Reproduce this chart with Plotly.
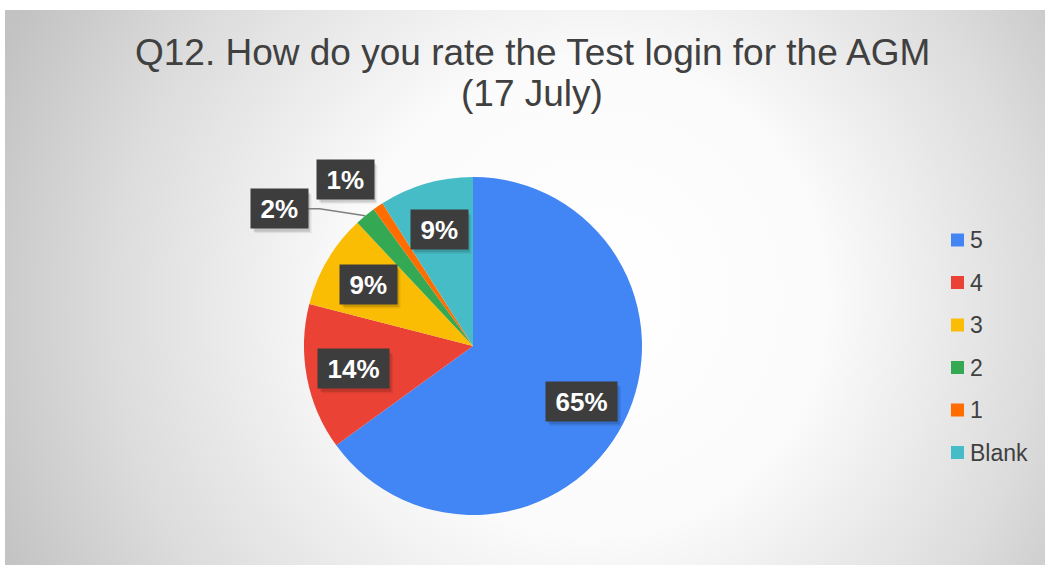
import math
import base64
import plotly.graph_objects as go

# ---- data ----
categories = ["5", "4", "3", "2", "1", "Blank"]
values = [65, 14, 9, 2, 1, 9]
colors = ["#4285F4", "#EA4335", "#FBBC04", "#34A853", "#FF6D01", "#46BDC6"]
title_line1 = "Q12. How do you rate the Test login for the AGM"
title_line2 = "(17 July)"

W, H = 1045, 565
TXT = "#404040"
FONT = "Liberation Sans, Arial"

# ---- pie geometry (pixels) ----
cx, cy, r = 473, 346, 169
dom_x = [(cx - r) / W, (cx + r) / W]
dom_y = [1 - (cy + r) / H, 1 - (cy - r) / H]

fig = go.Figure()
fig.add_trace(go.Pie(
    labels=categories, values=values, sort=False, direction="clockwise",
    rotation=0, marker=dict(colors=colors, line=dict(width=0)),
    textinfo="none", hoverinfo="label+percent", showlegend=False,
    domain=dict(x=dom_x, y=dom_y),
))

# ---- background radial gradient (svg data uri) ----
svg = '''<svg xmlns="http://www.w3.org/2000/svg" width="1040" height="555" viewBox="0 0 1040 555">
<defs><radialGradient id="g" cx="560" cy="300" r="620" gradientUnits="userSpaceOnUse" fx="600" fy="280">
<stop offset="0" stop-color="#ffffff"/>
<stop offset="0.38" stop-color="#fbfbfb"/>
<stop offset="0.75" stop-color="#dcdcdc"/>
<stop offset="1" stop-color="#c2c2c2"/>
</radialGradient></defs>
<rect width="1040" height="555" fill="url(#g)"/>
</svg>'''
uri = "data:image/svg+xml;base64," + base64.b64encode(svg.encode()).decode()
fig.add_layout_image(dict(source=uri, xref="paper", yref="paper", x=5 / W, y=1 - 10 / H,
                          sizex=1040 / W, sizey=555 / H, sizing="stretch",
                          xanchor="left", yanchor="top", layer="below"))

# ---- data labels ----
total = sum(values)
pct = [round(v * 100 / total) for v in values]
LFS = 26          # label font size
BH = 37           # label text box height
inside_factor = 0.72
# outside labels: pixel offset of box centre from slice edge, and whether a leader line is drawn
outside_offsets = {3: (-86, -7, True), 4: (-33, -27, False)}

annotations = []
shapes = []
cum = 0
for i, v in enumerate(values):
    mid = 2 * math.pi * (cum + v / 2) / total
    cum += v
    text = f"<b>{pct[i]}%</b>"
    nchar = len(str(pct[i]))
    bw = nchar * 0.556 * LFS + 0.889 * LFS + 17
    line = False
    if i in outside_offsets:
        ex = cx + r * math.sin(mid)
        ey = cy - r * math.cos(mid)
        ax, ay, line = outside_offsets[i]
        px, py = ex + ax, ey + ay
    else:
        px = cx + inside_factor * r * math.sin(mid)
        py = cy - inside_factor * r * math.cos(mid)
    # soft shadow (two layered rects)
    for off, alpha in ((4, 0.07), (2.5, 0.12)):
        shapes.append(dict(type="rect", xref="paper", yref="paper", layer="above",
                           x0=(px - bw / 2 - 1 + off) / W, x1=(px + bw / 2 + 1 + off) / W,
                           y0=1 - (py + BH / 2 + 1 + off + 1) / H, y1=1 - (py - BH / 2 - 1 + off + 1) / H,
                           fillcolor=f"rgba(0,0,0,{alpha})", line=dict(width=0)))
    if line:
        bx = px + bw / 2 + 1
        shapes.append(dict(type="path", xref="paper", yref="paper",
                           path=f"M {bx / W},{1 - py / H} L {(bx + 12) / W},{1 - py / H} L {ex / W},{1 - ey / H}",
                           line=dict(color="#7f7f7f", width=1.5)))
    annotations.append(dict(x=px / W, y=1 - py / H, xref="paper", yref="paper",
                            xanchor="center", yanchor="middle",
                            text=text, showarrow=False,
                            font=dict(size=LFS, color="white", family=FONT),
                            bgcolor="#3d3d3d", width=bw, height=BH, borderpad=1))

# ---- title ----
annotations.append(dict(x=532 / W, y=1 - 52 / H, xref="paper", yref="paper", text=title_line1,
                        showarrow=False, xanchor="center", yanchor="middle",
                        font=dict(size=37, color=TXT, family=FONT)))
annotations.append(dict(x=532 / W, y=1 - 94 / H, xref="paper", yref="paper", text=title_line2,
                        showarrow=False, xanchor="center", yanchor="middle",
                        font=dict(size=37, color=TXT, family=FONT)))

# ---- legend (manual) ----
leg_x0, leg_y0, leg_dy, sq = 951, 240, 42.5, 13
for i, (c, col) in enumerate(zip(categories, colors)):
    yc = leg_y0 + i * leg_dy
    shapes.append(dict(type="rect", xref="paper", yref="paper",
                       x0=leg_x0 / W, x1=(leg_x0 + sq) / W,
                       y0=1 - (yc + sq / 2) / H, y1=1 - (yc - sq / 2) / H,
                       fillcolor=col, line=dict(width=0)))
    annotations.append(dict(x=(leg_x0 + sq + 4) / W, y=1 - yc / H, xref="paper", yref="paper",
                            text=c, showarrow=False, xanchor="left", yanchor="middle",
                            font=dict(size=23, color=TXT, family=FONT)))

fig.update_layout(
    width=W, height=H, margin=dict(l=0, r=0, t=0, b=0),
    paper_bgcolor="white", plot_bgcolor="white",
    annotations=annotations, shapes=shapes, showlegend=False,
)
fig.write_html("out.html", config={"displayModeBar": False},
               post_script="document.body.style.margin='0';")
